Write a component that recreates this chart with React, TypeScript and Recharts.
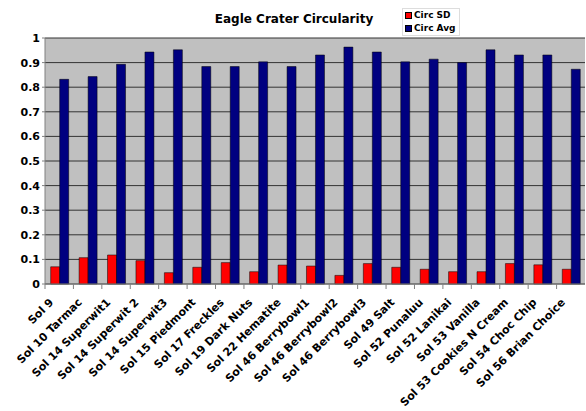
import React from "react"
import { BarChart, Bar, XAxis, YAxis, CartesianGrid } from "recharts"

const categories = [
  "Sol 9",
  "Sol 10 Tarmac",
  "Sol 14 Superwit1",
  "Sol 14 Superwit 2",
  "Sol 14 Superwit3",
  "Sol 15 Piedmont",
  "Sol 17 Freckles",
  "Sol 19 Dark Nuts",
  "Sol 22 Hematite",
  "Sol 46 Berrybowl1",
  "Sol 46 Berrybowl2",
  "Sol 46 Berrybowl3",
  "Sol 49 Salt",
  "Sol 52 Punaluu",
  "Sol 52 Lanikai",
  "Sol 53 Vanilla",
  "Sol 53 Cookies N Cream",
  "Sol 54 Choc Chip",
  "Sol 56 Brian Choice",
]

const circSD = [0.07, 0.107, 0.118, 0.095, 0.046, 0.068, 0.087, 0.05, 0.077, 0.073, 0.035, 0.083, 0.068, 0.06, 0.05, 0.05, 0.083, 0.078, 0.06]

const circAvg = [0.832, 0.843, 0.893, 0.943, 0.952, 0.884, 0.884, 0.903, 0.884, 0.931, 0.963, 0.943, 0.903, 0.914, 0.9, 0.952, 0.931, 0.931, 0.873]

const yTicks = [0, 0.1, 0.2, 0.3, 0.4, 0.5, 0.6, 0.7, 0.8, 0.9, 1]

const W = 586
const H = 411
const LEFT = 45
const RIGHT = 1
const band = (W - LEFT - RIGHT) / categories.length

const font = "'DejaVu Sans', Verdana, sans-serif"

const data = categories.map((name, i) => ({
  name,
  sd: circSD[i],
  avg: circAvg[i],
}))

const CategoryTick = ({ x, y, payload }: any) => (
  <g>
    <line x1={x - band / 2} y1={y - 8} x2={x - band / 2} y2={y - 3} stroke="#808080" />
    <text
      x={x - 5}
      y={y + 11}
      textAnchor="end"
      transform={`rotate(-45, ${x - 5}, ${y + 11})`}
      fontFamily={font}
      fontWeight="bold"
      fontSize={11}
      fill="#000"
    >
      {payload.value}
    </text>
  </g>
)

export default function App() {
  return (
    <div style={{ position: "absolute", left: 0, top: 0, width: W, height: H, background: "#fff" }}>
      <div
        style={{
          position: "absolute",
          left: 0,
          width: 588,
          top: 12,
          textAlign: "center",
          fontFamily: font,
          fontWeight: "bold",
          fontSize: 12,
          color: "#000",
        }}
      >
        Eagle Crater Circularity
      </div>
      <div
        style={{
          position: "absolute",
          left: 402,
          top: 8,
          width: 58,
          height: 28,
          border: "1px solid #ddd",
          fontFamily: font,
          fontWeight: "bold",
          fontSize: 9,
          lineHeight: "13px",
          paddingLeft: 2,
          boxSizing: "border-box",
        }}
      >
        <div style={{ display: "flex", alignItems: "center", gap: 2 }}>
          <span style={{ width: 5, height: 5, background: "#ff0000", border: "1px solid #000", display: "inline-block" }} />
          Circ SD
        </div>
        <div style={{ display: "flex", alignItems: "center", gap: 2 }}>
          <span style={{ width: 5, height: 5, background: "#000080", border: "1px solid #000", display: "inline-block" }} />
          Circ Avg
        </div>
      </div>
      <BarChart
        width={W}
        height={H}
        data={data}
        margin={{ top: 38, right: RIGHT, bottom: 0, left: 0 }}
        barCategoryGap="20%"
        barGap={0}
        style={{ position: "absolute", left: 0, top: 0 }}
      >
        <CartesianGrid vertical={false} stroke="#333" fill="#c0c0c0" />
        <XAxis
          dataKey="name"
          interval={0}
          height={127}
          tick={<CategoryTick />}
          tickLine={false}
          stroke="#808080"
        />
        <YAxis
          width={LEFT}
          domain={[0, 1]}
          ticks={yTicks}
          interval={0}
          tickFormatter={(v: number) => (v === 0 || v === 1 ? String(v) : v.toFixed(1))}
          tick={{ fontFamily: font, fontWeight: "bold", fontSize: 11, fill: "#000" }}
          tickLine={{ stroke: "#808080" }}
          tickSize={3}
          stroke="#808080"
        />
        <Bar dataKey="sd" fill="#ff0000" stroke="#000" strokeWidth={0.5} isAnimationActive={false} />
        <Bar dataKey="avg" fill="#000080" stroke="#000" strokeWidth={0.5} isAnimationActive={false} />
      </BarChart>
    </div>
  )
}
